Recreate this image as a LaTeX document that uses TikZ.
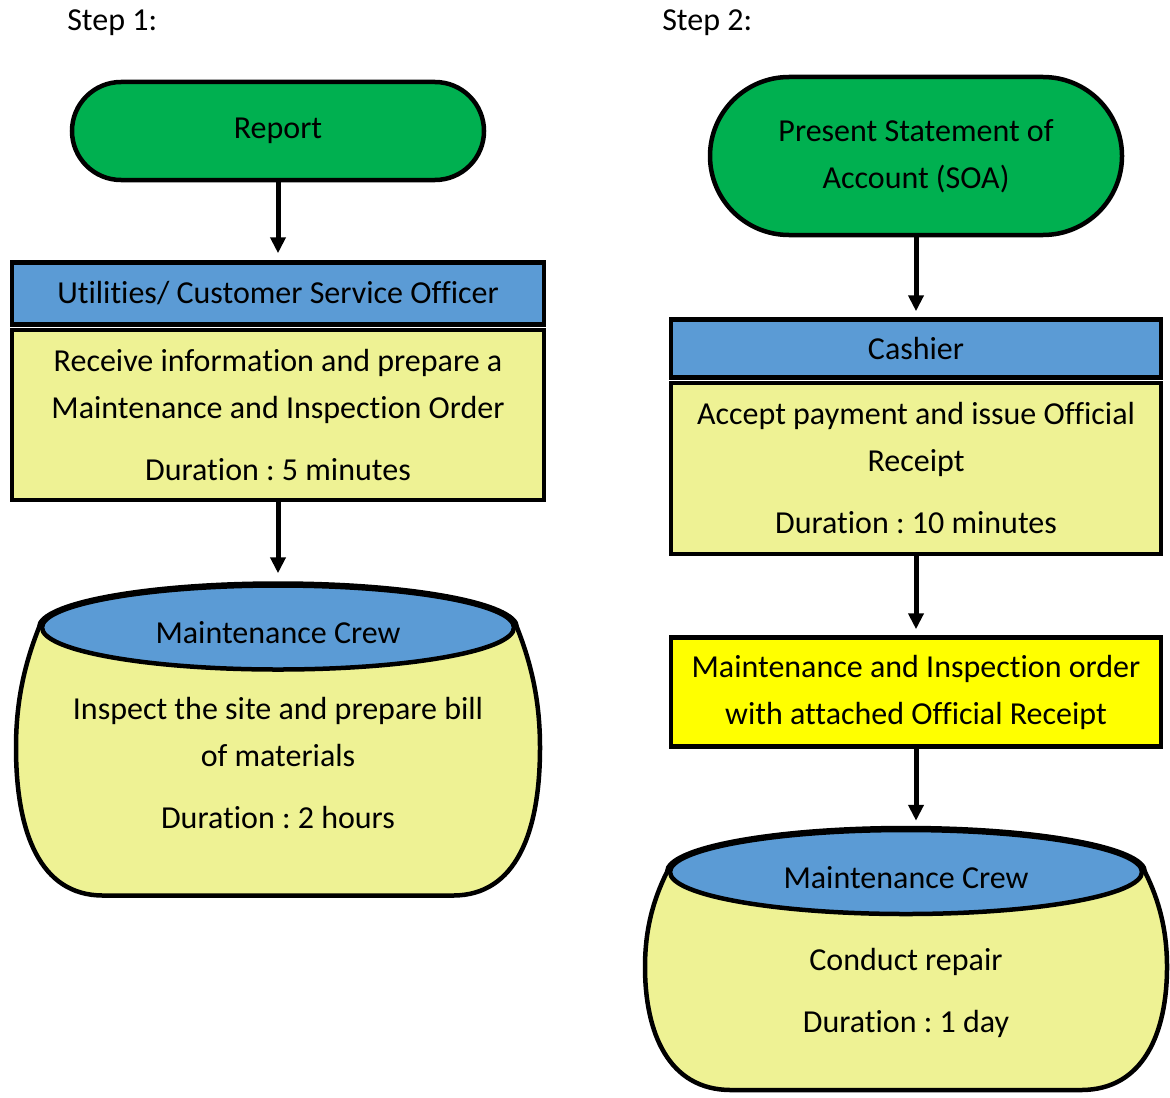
\documentclass[tikz,border=0pt]{standalone}
\usepackage{fontspec}
\setmainfont[Ligatures=NoCommon]{Carlito}
\usetikzlibrary{arrows.meta,positioning,shapes.geometric,backgrounds}
\definecolor{flowgreen}{HTML}{00B050}
\definecolor{flowblue}{HTML}{5B9BD5}
\definecolor{flowpale}{RGB}{238,242,148}
\definecolor{flowyellow}{HTML}{FFFF00}
\frenchspacing

\begin{document}
\begin{tikzpicture}
		[x=0.5pt, y=0.5pt, line width=2.25pt, >={Triangle[width=7.5pt,length=8pt]},
		 font=\fontsize{16pt}{23.5pt}\selectfont,
		 tblock/.style  = {draw, shape=rectangle, fill=flowgreen, align=center, inner sep=0pt},
		 hblock/.style  = {draw, shape=rectangle, fill=flowblue, align=center, inner sep=0pt},
		 block/.style   = {draw, shape=rectangle, fill=flowpale, align=center, inner sep=0pt},
		 oblock/.style  = {draw, shape=rectangle, fill=flowyellow, align=center, inner sep=0pt},
		 crewtop/.style = {draw, shape=ellipse, fill=flowblue, inner sep=0pt,
		                   minimum width=236pt, minimum height=42pt,
		                   text height=16pt, text depth=0pt},
		 potbody/.style = {draw, fill=flowpale, line width=2.25pt},
		 flow/.style    = {->, line width=2.5pt},
		]

		\useasboundingbox (0,0) rectangle (1170,-1097);

		\node [anchor=west, inner sep=0pt] (stepone) at (65,-23)  {Step 1:};
		\node [anchor=west, inner sep=0pt] (steptwo) at (660,-23) {Step 2:};

		% Step 1
		\node [tblock, minimum width=206pt, minimum height=49pt, rounded corners=24.5pt]
		      (report) at (278,-131) {Report};
		\node [hblock, below=39pt of report, minimum width=266pt, minimum height=31pt]
		      (officer) {Utilities/ Customer Service Officer};
		\node [block, below=0.5pt of officer, minimum width=266pt, minimum height=85pt]
		      (receive) {Receive information and prepare a\\ Maintenance and Inspection Order\\[7.5pt] Duration : 5 minutes};
		\node [crewtop, below=40.5pt of receive] (crewA) {Maintenance Crew};
		\node [align=center] (inspect) at ([yshift=-68pt]crewA.center)
		      {Inspect the site and prepare bill\\ of materials\\[7.5pt] Duration : 2 hours};

		% Step 2
		\node [tblock, minimum width=206pt, minimum height=79pt, rounded corners=39.5pt]
		      (soa) at (916,-156) {Present Statement of\\ Account (SOA)};
		\node [hblock, below=40pt of soa, minimum width=245pt, minimum height=29pt]
		      (cashier) {Cashier};
		\node [block, below=0.5pt of cashier, minimum width=245pt, minimum height=85.5pt]
		      (payment) {Accept payment and issue Official\\ Receipt\\[7.5pt] Duration : 10 minutes};
		\node [oblock, below=39.5pt of payment, minimum width=245pt, minimum height=54.5pt]
		      (order) {Maintenance and Inspection order\\ with attached Official Receipt};
		\node [crewtop, below=39.5pt of order, xshift=-5pt] (crewB) {Maintenance Crew};
		\node [align=center] (repair) at ([yshift=-60.5pt]crewB.center)
		      {Conduct repair\\[7.5pt] Duration : 1 day};

		% pot outlines behind the crew ellipses
		\begin{scope}[on background layer, shift={(crewA.center)}]
			\draw[potbody] (-239,0) arc[start angle=180, end angle=0, x radius=239, y radius=44]
			   .. controls (254,-38) and (262,-75) .. (262,-120)
			   .. controls (262,-205) and (238,-268) .. (175,-268) -- (-175,-268)
			   .. controls (-238,-268) and (-262,-205) .. (-262,-120)
			   .. controls (-262,-75) and (-254,-38) .. (-239,0) -- cycle;
		\end{scope}
		\begin{scope}[on background layer, shift={(crewB.center)}]
			\draw[potbody] (-239,0) arc[start angle=180, end angle=0, x radius=239, y radius=44]
			   .. controls (253,-28) and (261,-58) .. (261,-95)
			   .. controls (261,-160) and (238,-218) .. (175,-218) -- (-175,-218)
			   .. controls (-238,-218) and (-261,-160) .. (-261,-95)
			   .. controls (-261,-58) and (-253,-28) .. (-239,0) -- cycle;
		\end{scope}

		\draw[flow, shorten >=3.5pt] (report) -- (officer);
		\draw[flow, shorten >=5pt]   (receive) -- (crewA);
		\draw[flow, shorten >=3pt]   (soa) -- (cashier);
		\draw[flow, shorten >=3pt]   (payment) -- (order);
		\draw[flow, shorten >=3.5pt] (order.south) -- (order.south |- crewB.north);

\end{tikzpicture}
\end{document}
